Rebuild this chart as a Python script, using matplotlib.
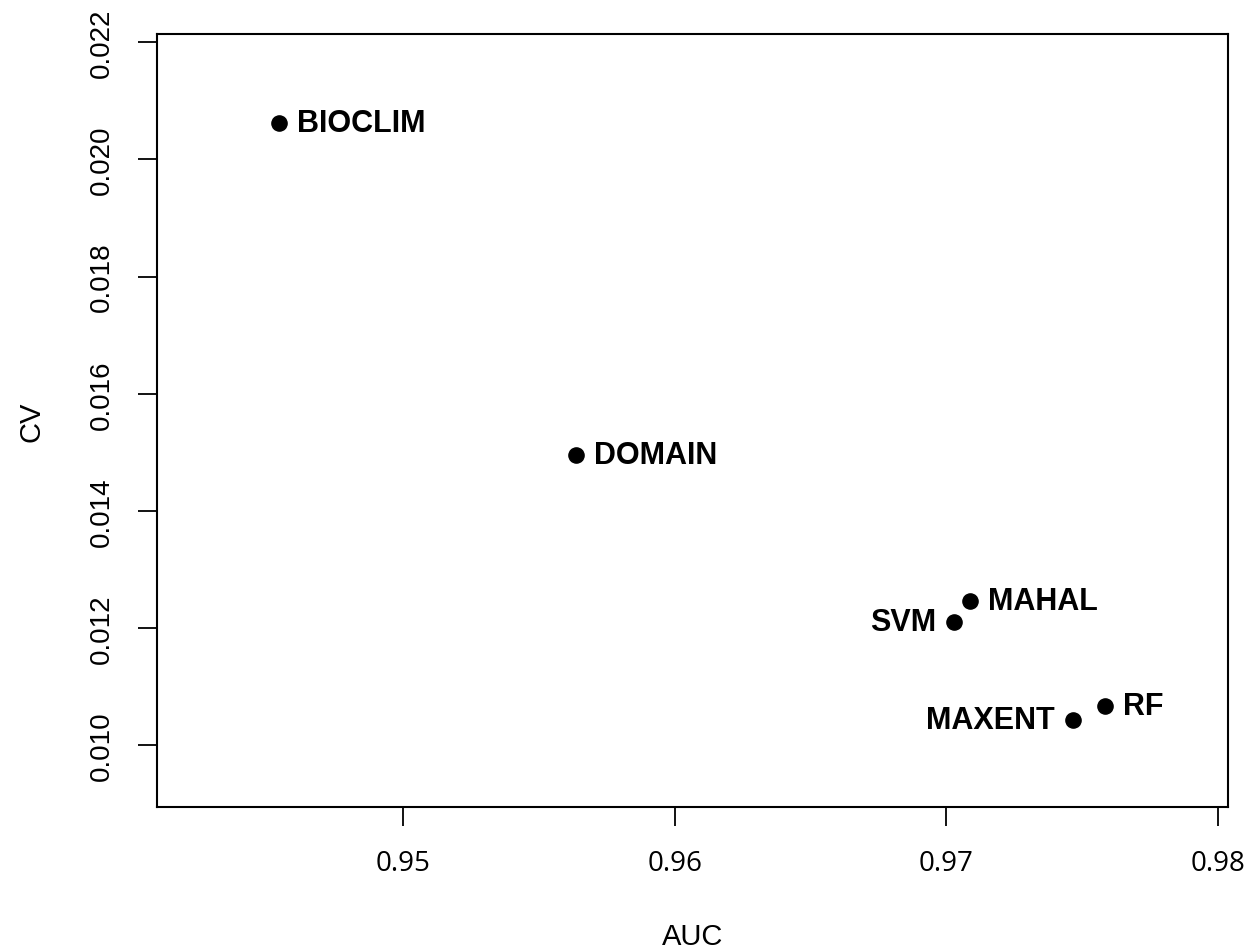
import matplotlib
matplotlib.use("Agg")
import matplotlib.pyplot as plt

# AUC vs coefficient of variation for each model
models = ["BIOCLIM", "DOMAIN", "MAHAL", "SVM", "MAXENT", "RF"]
auc = [0.94544, 0.95637, 0.97088, 0.97029, 0.97464, 0.97582]
cv = [0.020615, 0.014957, 0.012462, 0.012103, 0.010427, 0.010667]
label_side = ["right", "right", "right", "left", "left", "right"]

xticks = [0.95, 0.96, 0.97, 0.98]
yticks = [0.010, 0.012, 0.014, 0.016, 0.018, 0.020, 0.022]

plt.rcParams["font.family"] = ["Liberation Sans", "DejaVu Sans"]

fig = plt.figure(figsize=(12.55, 9.53), dpi=100)
ax = fig.add_axes([0.1251, 0.1521, 0.8534, 0.8112])

ax.scatter(auc, cv, s=120, color="black", zorder=3)

for name, x, y, side in zip(models, auc, cv, label_side):
    dx = 13 if side == "right" else -13
    ha = "left" if side == "right" else "right"
    ax.annotate(name, (x, y), xytext=(dx, 0), textcoords="offset points",
                ha=ha, va="center", fontsize=22, fontweight="bold")

ax.set_xlim(0.94095, 0.98036)
ax.set_ylim(0.00895, 0.022137)

ax.set_xticks(xticks)
ax.set_xticklabels([f"{t:.2f}" for t in xticks], family="Open Sans")
ax.set_yticks(yticks)
ax.set_yticklabels([f"{t:.3f}" for t in yticks], rotation=90, va="center")

ax.tick_params(axis="both", direction="out", length=13.5, width=1.3,
               labelsize=20)
ax.tick_params(axis="x", pad=17)
ax.tick_params(axis="y", pad=17)

for sp in ax.spines.values():
    sp.set_linewidth(1.5)

ax.set_xlabel("AUC", fontsize=21, labelpad=32)
ax.set_ylabel("CV", fontsize=21, labelpad=31)

fig.savefig("out.png", dpi=100)
